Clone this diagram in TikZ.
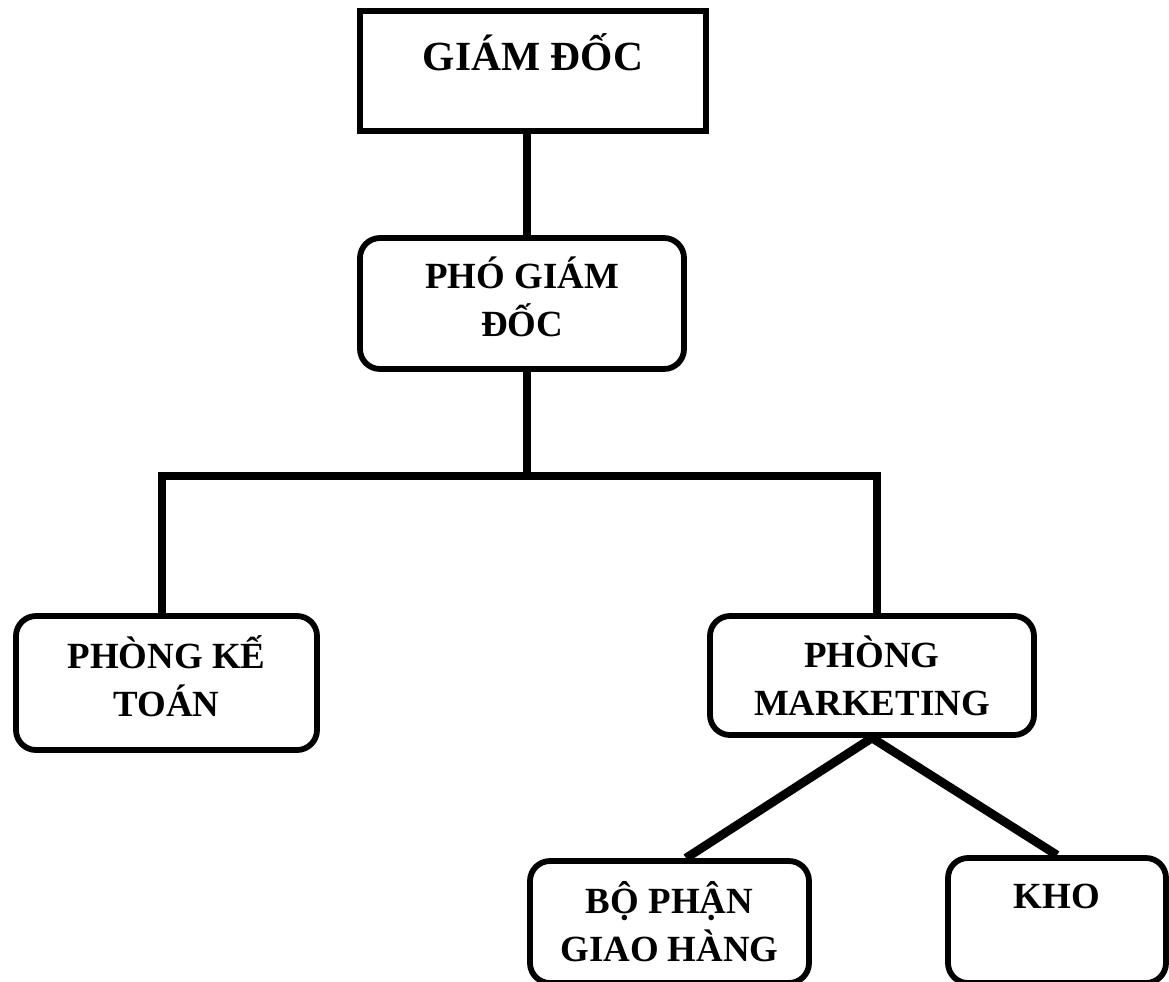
\documentclass[tikz,border=0pt]{standalone}
\usepackage{fontspec}
\setmainfont{Liberation Serif}
\usetikzlibrary{calc}

\tikzset{
box/.style={draw, line width=3.3pt, rounded corners=0.4cm, inner sep=0pt, fill=white,
  font=\bfseries\fontsize{21}{27.8}\selectfont},
topbox/.style={box, sharp corners, font=\bfseries\fontsize{23.6}{28}\selectfont},
link/.style={line width=5pt}
}

\begin{document}
\begin{tikzpicture}
\useasboundingbox (0,0) rectangle (23.38,-19.62);
\clip (0,0) rectangle (23.38,-19.62);

\node[topbox] (gd) at (10.66,-1.42)
  {\parbox[c][2.40cm][t]{6.92cm}{\centering\rule{0pt}{1.18cm}GIÁM ĐỐC}};
\node[box] (pgd) at (10.44,-6.07)
  {\parbox[c][2.62cm][t]{6.48cm}{\centering\rule{0pt}{1.00cm}PHÓ GIÁM\\ĐỐC}};
\node[box] (pkt) at (3.33,-13.66)
  {\parbox[c][2.68cm][t]{6.02cm}{\centering\rule{0pt}{1.04cm}PHÒNG KẾ\\TOÁN}};
\node[box] (pm) at (17.44,-13.51)
  {\parbox[c][2.38cm][t]{6.48cm}{\centering\rule{0pt}{1.02cm}PHÒNG\\MARKETING}};
\node[box] (bpgh) at (13.39,-18.44)
  {\parbox[c][2.44cm][t]{5.58cm}{\centering\rule{0pt}{1.04cm}BỘ PHẬN\\GIAO HÀNG}};
\node[box] (kho) at (21.14,-18.41)
  {\parbox[c][2.50cm][t]{4.36cm}{\centering\rule{0pt}{1.00cm}KHO}};

% junction under the deputy
\coordinate (split) at (10.54,-9.52);

\draw[link] (gd.south -| split) -- (pgd.north -| split);
\draw[link] (pgd.south -| split) -- (split);
\draw[link] ($(pkt.north)+(-0.09,0)$) |- (split) -| ($(pm.north)+(0.1,0)$);
\draw[link] (pm.south) -- ($(bpgh.north)+(0.33,0)$);
\draw[link] (pm.south) -- (kho.north);
\end{tikzpicture}
\end{document}
